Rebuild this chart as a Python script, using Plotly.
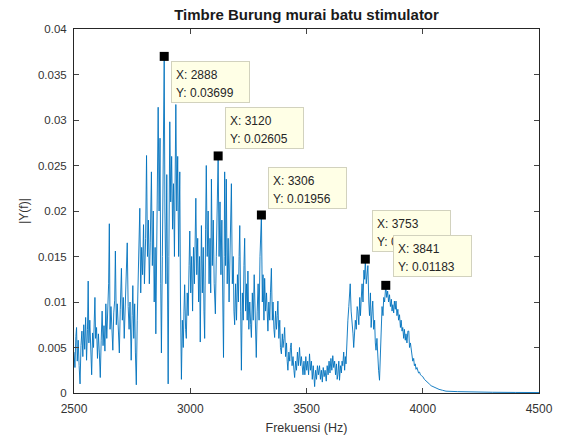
import plotly.graph_objects as go

freq = [
    2500, 2504, 2508, 2511, 2514, 2518, 2522, 2526, 2530, 2534,
    2538, 2542, 2546, 2550, 2554, 2558, 2561, 2564, 2568, 2572,
    2576, 2580, 2584, 2587, 2590, 2593, 2597, 2601, 2605, 2609,
    2613, 2617, 2621, 2625, 2629, 2633, 2637, 2641, 2645, 2649,
    2652, 2655, 2659, 2663, 2667, 2671, 2675, 2678, 2682, 2686,
    2690, 2695, 2699, 2704, 2708, 2712, 2716, 2720, 2724, 2729,
    2733, 2737, 2741, 2746, 2750, 2753, 2757, 2761, 2764, 2768,
    2772, 2776, 2779, 2783, 2787, 2791, 2795, 2799, 2803, 2808,
    2812, 2816, 2820, 2824, 2828, 2833, 2837, 2841, 2845, 2849,
    2852, 2856, 2859, 2862, 2866, 2870, 2873, 2876, 2880, 2884,
    2888, 2891, 2895, 2899, 2902, 2905, 2908, 2912, 2916, 2920,
    2924, 2928, 2932, 2935, 2938, 2942, 2946, 2950, 2955, 2958,
    2962, 2966, 2970, 2973, 2976, 2980, 2983, 2987, 2991, 2995,
    2998, 3002, 3006, 3010, 3014, 3018, 3021, 3024, 3028, 3032,
    3036, 3040, 3043, 3046, 3048, 3052, 3056, 3059, 3062, 3066,
    3069, 3073, 3077, 3081, 3085, 3088, 3091, 3095, 3099, 3103,
    3108, 3112, 3116, 3120, 3124, 3128, 3132, 3136, 3140, 3143,
    3146, 3148, 3152, 3155, 3159, 3163, 3167, 3171, 3174, 3177,
    3181, 3185, 3188, 3191, 3195, 3199, 3203, 3207, 3210, 3213,
    3217, 3220, 3224, 3228, 3231, 3234, 3238, 3242, 3245, 3248,
    3252, 3256, 3260, 3263, 3267, 3271, 3275, 3279, 3284, 3288,
    3292, 3296, 3300, 3306, 3310, 3313, 3317, 3320, 3324, 3328,
    3331, 3334, 3338, 3342, 3345, 3349, 3353, 3356, 3360, 3363,
    3367, 3371, 3374, 3377, 3381, 3385, 3388, 3392, 3396, 3399,
    3403, 3406, 3410, 3414, 3417, 3420, 3424, 3428, 3431, 3434,
    3438, 3442, 3446, 3449, 3453, 3457, 3461, 3465, 3470, 3474,
    3478, 3481, 3485, 3489, 3493, 3497, 3501, 3505, 3509, 3513,
    3517, 3521, 3525, 3529, 3532, 3535, 3539, 3543, 3547, 3551,
    3556, 3560, 3564, 3568, 3572, 3576, 3580, 3585, 3589, 3593,
    3597, 3601, 3605, 3609, 3613, 3617, 3621, 3625, 3629, 3632,
    3635, 3639, 3642, 3646, 3650, 3653, 3656, 3660, 3664, 3667,
    3670, 3674, 3678, 3682, 3685, 3688, 3692, 3696, 3700, 3703,
    3706, 3710, 3714, 3718, 3721, 3725, 3729, 3732, 3735, 3739,
    3743, 3747, 3750, 3753, 3757, 3760, 3764, 3768, 3771, 3775,
    3778, 3782, 3785, 3789, 3793, 3796, 3799, 3803, 3807, 3810,
    3814, 3818, 3821, 3825, 3829, 3832, 3836, 3841, 3845, 3849,
    3853, 3857, 3861, 3865, 3868, 3871, 3875, 3878, 3882, 3885,
    3889, 3893, 3896, 3900, 3904, 3907, 3911, 3914, 3918, 3921,
    3925, 3928, 3932, 3936, 3940, 3943, 3947, 3950, 3954, 3957,
    3961, 3964, 3968, 3971, 3975, 3978, 3982, 3986, 3990, 3995,
    4000, 4007, 4014, 4021, 4028, 4036, 4043, 4050, 4057, 4070,
    4085, 4100, 4150, 4200, 4300, 4400, 4500,
]

amp = [
    0.0045, 0.0028, 0.0062, 0.0072, 0.0035, 0.0058, 0.0030, 0.0010, 0.0052, 0.0068,
    0.0040, 0.0075, 0.0048, 0.0083, 0.0036, 0.0070, 0.0123, 0.0055, 0.0080, 0.0042,
    0.0020, 0.0066, 0.0050, 0.0078, 0.0105, 0.0060, 0.0072, 0.0038, 0.0065, 0.0044,
    0.0017, 0.0058, 0.0090, 0.0052, 0.0074, 0.0046, 0.0098, 0.0060, 0.0083, 0.0120,
    0.0186, 0.0070, 0.0095, 0.0060, 0.0047, 0.0088, 0.0102, 0.0156, 0.0075, 0.0098,
    0.0065, 0.0044, 0.0092, 0.0137, 0.0080, 0.0105, 0.0060, 0.0086, 0.0120, 0.0165,
    0.0095, 0.0070, 0.0100, 0.0036, 0.0085, 0.0118, 0.0060, 0.0098, 0.0045, 0.0009,
    0.0080, 0.0125, 0.0150, 0.0203, 0.0110, 0.0160, 0.0130, 0.0185, 0.0120, 0.0170,
    0.0261, 0.0150, 0.0190, 0.0120, 0.0165, 0.0243, 0.0140, 0.0200, 0.0100, 0.0160,
    0.0065, 0.0190, 0.0250, 0.0314, 0.0200, 0.0280, 0.0120, 0.0044, 0.0150, 0.0260,
    0.03699, 0.0200, 0.0120, 0.0240, 0.0080, 0.0010, 0.0150, 0.0298, 0.0210, 0.0260,
    0.0180, 0.0230, 0.0150, 0.0270, 0.0317, 0.0200, 0.0260, 0.0150, 0.0243, 0.0100,
    0.0015, 0.0080, 0.0050, 0.0090, 0.0119, 0.0070, 0.0060, 0.0110, 0.0085, 0.0140,
    0.0178, 0.0110, 0.0150, 0.0090, 0.0160, 0.0120, 0.0190, 0.0214, 0.0130, 0.0170,
    0.0100, 0.0150, 0.0056, 0.0140, 0.0184, 0.0110, 0.0160, 0.0090, 0.0060, 0.0180,
    0.0250, 0.0150, 0.0200, 0.0120, 0.0170, 0.0110, 0.0235, 0.0140, 0.0190, 0.0120,
    0.0087, 0.0150, 0.0200, 0.02605, 0.0150, 0.0210, 0.0130, 0.0190, 0.0100, 0.0039,
    0.0150, 0.0243, 0.0140, 0.0235, 0.0120, 0.0170, 0.0100, 0.0150, 0.0200, 0.0230,
    0.0120, 0.0150, 0.0090, 0.0075, 0.0120, 0.0080, 0.0130, 0.0100, 0.0150, 0.0184,
    0.0090, 0.0025, 0.0110, 0.0080, 0.0140, 0.0170, 0.0090, 0.0120, 0.0080, 0.0134,
    0.0070, 0.0100, 0.0075, 0.0061, 0.0110, 0.0080, 0.0130, 0.0070, 0.0039, 0.0090,
    0.0120, 0.0080, 0.0150, 0.01956, 0.0100, 0.0130, 0.0080, 0.0126, 0.0090, 0.0110,
    0.0070, 0.0068, 0.0100, 0.0080, 0.0110, 0.0137, 0.0080, 0.0100, 0.0070, 0.0061,
    0.0090, 0.0070, 0.0085, 0.0101, 0.0060, 0.0080, 0.0050, 0.0043, 0.0065, 0.0050,
    0.0060, 0.0072, 0.0040, 0.0055, 0.0035, 0.0025, 0.0045, 0.0035, 0.0050, 0.0055,
    0.0030, 0.0040, 0.0025, 0.0017, 0.0035, 0.0025, 0.0045, 0.0030, 0.0050, 0.0030,
    0.0040, 0.0025, 0.0020, 0.0035, 0.0020, 0.0040, 0.0025, 0.0035, 0.0020, 0.0043,
    0.0025, 0.0035, 0.0015, 0.0030, 0.0015, 0.0007, 0.0025, 0.0015, 0.0030, 0.0020,
    0.0030, 0.0015, 0.0025, 0.0012, 0.0028, 0.0018, 0.0025, 0.0013, 0.0030, 0.0020,
    0.0035, 0.0022, 0.0038, 0.0025, 0.0041, 0.0028, 0.0035, 0.0020, 0.0032, 0.0015,
    0.0020, 0.0035, 0.0014, 0.0030, 0.0022, 0.0035, 0.0030, 0.0045, 0.0025, 0.0040,
    0.0032, 0.0061, 0.0080, 0.0095, 0.0110, 0.0120, 0.0090, 0.0080, 0.0065, 0.0050,
    0.0061, 0.0080, 0.0070, 0.0095, 0.0090, 0.0075, 0.0105, 0.0085, 0.0101, 0.0120,
    0.0100, 0.0135, 0.0125, 0.0147, 0.0120, 0.0135, 0.0140, 0.0100, 0.0085, 0.0110,
    0.0072, 0.0090, 0.0101, 0.0070, 0.0080, 0.0055, 0.0047, 0.0060, 0.0035, 0.0025,
    0.0014, 0.0050, 0.0083, 0.0095, 0.0085, 0.0105, 0.0100, 0.01183, 0.0105, 0.0112,
    0.0100, 0.0108, 0.0095, 0.0103, 0.0090, 0.0097, 0.0088, 0.0101, 0.0092, 0.0101,
    0.0085, 0.0092, 0.0080, 0.0086, 0.0072, 0.0080, 0.0068, 0.0072, 0.0060, 0.0070,
    0.0058, 0.0065, 0.0055, 0.0068, 0.0068, 0.0050, 0.0055, 0.0047, 0.0040, 0.0035,
    0.0038, 0.0030, 0.0032, 0.0026, 0.0028, 0.0026, 0.0022, 0.0023, 0.0020, 0.0019,
    0.0018, 0.0015, 0.0013, 0.0011, 0.0010, 0.0008, 0.0007, 0.0006, 0.0005, 0.0004,
    0.0003, 0.0002, 0.00015, 0.0001, 0.00008, 0.00006, 0.00005,
]

# data tips
tip_x = [2888, 3120, 3306, 3753, 3841]
tip_y = [0.03699, 0.02605, 0.01956, 0.01471, 0.01183]
tip_x_text = ["2888", "3120", "3306", "3753", "3841"]
tip_y_text = ["0.03699", "0.02605", "0.01956", "0.01471", "0.01183"]
tip_box_yshift = [-5, 49, 48, 49, 50]

x_ticks = [2500, 3000, 3500, 4000, 4500]
y_ticks = [0, 0.005, 0.01, 0.015, 0.02, 0.025, 0.03, 0.035, 0.04]
y_tick_text = ["0", "0.005", "0.01", "0.015", "0.02", "0.025", "0.03", "0.035", "0.04"]

FONT = "Liberation Sans, Arial, Helvetica, sans-serif"
AXC = "#262626"
TXC = "#333333"

fig = go.Figure()
fig.add_trace(go.Scatter(
    x=freq, y=amp, mode="lines",
    line=dict(color="#0072BD", width=0.9),
    hoverinfo="skip", showlegend=False,
))
fig.add_trace(go.Scatter(
    x=tip_x, y=tip_y, mode="markers",
    marker=dict(symbol="square", size=9, color="black"),
    showlegend=False,
))

for tx, ty, xt, yt, ys in zip(tip_x, tip_y, tip_x_text, tip_y_text, tip_box_yshift):
    # box
    fig.add_annotation(
        x=tx, y=ty, xref="x", yref="y", text=" ",
        showarrow=False, xanchor="left", yanchor="top",
        xshift=7, yshift=ys, width=75, height=38,
        bgcolor="#FFFFE6", bordercolor="#D2D2BE", borderwidth=1, borderpad=1,
    )
    # two text lines
    for k, line in enumerate([f"X: {xt}", f"Y: {yt}"]):
        fig.add_annotation(
            x=tx, y=ty, xref="x", yref="y", text=line,
            showarrow=False, xanchor="left", yanchor="middle",
            xshift=10, yshift=ys - 14 - 18 * k,
            font=dict(family=FONT, size=12, color="#262626"),
        )

fig.update_layout(
    width=565, height=444,
    margin=dict(l=74, r=25, t=29, b=48),
    paper_bgcolor="white", plot_bgcolor="white",
    font=dict(family=FONT, size=11.5, color=TXC),
    title=dict(text="<b>Timbre Burung murai batu stimulator</b>",
               x=0.5, xanchor="center", xref="paper",
               y=1, yref="paper", yanchor="bottom", pad=dict(b=9),
               font=dict(family=FONT, size=15, color="#1a1a1a")),
)
fig.update_xaxes(
    range=[2500, 4500], tickvals=x_ticks, ticks="inside", ticklen=5,
    showline=True, linecolor=AXC, linewidth=1, mirror="ticks",
    showgrid=False, zeroline=False, tickfont=dict(size=12, color=TXC),
    ticklabelstandoff=5,
    title=dict(text="Frekuensi (Hz)", font=dict(size=12.5, color=TXC), standoff=7),
)
fig.update_yaxes(
    range=[0, 0.04], tickvals=y_ticks, ticktext=y_tick_text,
    ticks="inside", ticklen=5,
    showline=True, linecolor=AXC, linewidth=1, mirror="ticks",
    showgrid=False, zeroline=False, tickfont=dict(size=11.5, color=TXC),
    ticklabelstandoff=4,
    title=dict(text="|Y(f)|", font=dict(size=12, color=TXC), standoff=6),
)

fig.write_html("out.html")
